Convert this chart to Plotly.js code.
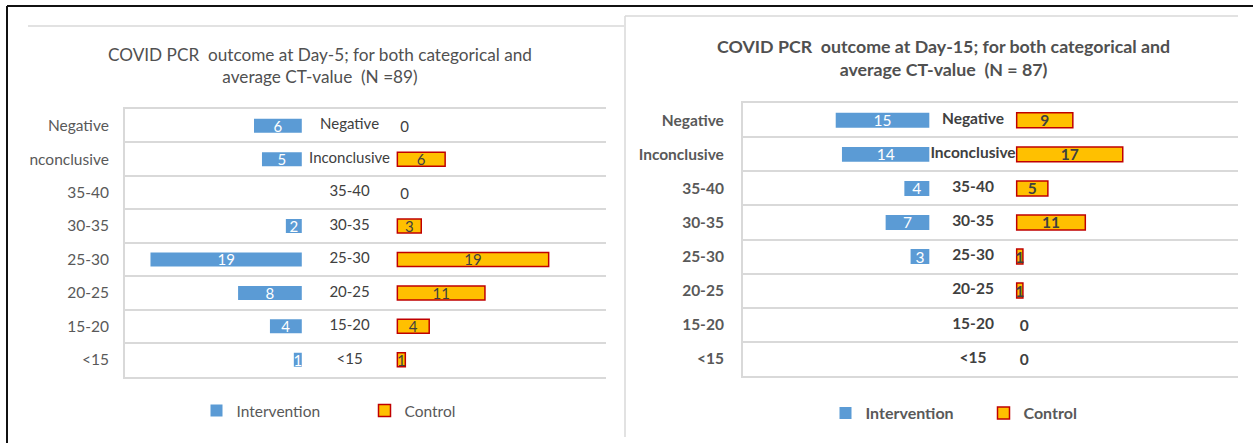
<!DOCTYPE html>
<html><head><meta charset="utf-8">
<script src="https://cdn.plot.ly/plotly-3.0.1.min.js"></script>
<style>html,body{margin:0;padding:0;background:#fff;overflow:hidden}#chart{width:1253px;height:443px}</style>
</head><body><div id="chart"></div>
<script>
// ---- data ----
const categories = ['Negative', 'Inconclusive', '35-40', '30-35', '25-30', '20-25', '15-20', '<15'];
const tickLabelsDay5 = ['Negative', 'Inconclusive', '35-40', '30-35', '25-30', '20-25', '15-20', '<15'];
const tickLabelsDay15 = ['Negative', 'Inconclusive', '35-40', '30-35', '25-30', '20-25', '15-20', '<15'];
const interventionDay5 = [6, 5, 0, 2, 19, 8, 4, 1];
const controlDay5 = [0, 6, 0, 3, 19, 11, 4, 1];
const interventionDay15 = [15, 14, 4, 7, 3, 0, 0, 0];
const controlDay15 = [9, 17, 5, 11, 1, 1, 0, 0];
const seriesNames = ['Intervention', 'Control'];
const titleDay5 = 'COVID PCR  outcome at Day-5; for both categorical and<br>average CT-value  (N =89)';
const titleDay15 = 'COVID PCR  outcome at Day-15; for both categorical and<br>average CT-value  (N = 87)';

// ---- styling ----
const W = 1253, H = 443;
const px = x => x / W;
const py = y => 1 - y / H;
const FONT = 'Lato, "Open Sans", sans-serif';
const GRAY = '#595959', DARK = '#404040', GRID = '#d9d9d9';
const BLUE = '#5B9BD5', GOLD = '#FFC000', RED = '#C00000';

function panel(intervention, control, gap, ax, legendId, bold, barWidth, fs) {
  const wt = bold ? 'bold' : 'normal';
  const xa = ax === 1 ? 'x' : 'x2', ya = ax === 1 ? 'y' : 'y2';
  // list the control points largest first so the legend swatch takes a bordered bar
  const order = categories.map((_, i) => i).sort((a, b) => control[b] - control[a]);
  const cCats = order.map(i => categories[i]);
  const cVals = order.map(i => control[i]);
  return [
    {
      type: 'bar', orientation: 'h', name: seriesNames[0], legend: legendId,
      y: categories, x: intervention.map(v => -v), base: -gap, width: barWidth,
      xaxis: xa, yaxis: ya,
      marker: {color: BLUE, line: {width: 0}},
      text: intervention.map(String), textposition: 'inside', insidetextanchor: 'middle',
      constraintext: 'none', textangle: 0,
      insidetextfont: {family: FONT, size: fs, color: '#ffffff', weight: 'normal'},
      hoverinfo: 'skip'
    },
    {
      type: 'bar', orientation: 'h', name: seriesNames[1], legend: legendId,
      y: cCats, x: cVals, base: gap, width: barWidth,
      xaxis: xa, yaxis: ya,
      marker: {color: GOLD, line: {color: RED, width: cVals.map(v => v > 0 ? 1.5 : 0)}},
      text: cVals.map(String), textposition: cVals.map(v => v > 0 ? 'inside' : 'outside'),
      insidetextanchor: 'middle', constraintext: 'none', textangle: 0, cliponaxis: false,
      insidetextfont: {family: FONT, size: fs, color: DARK, weight: wt},
      outsidetextfont: {family: FONT, size: fs, color: DARK, weight: wt},
      hoverinfo: 'skip'
    },
    {
      type: 'scatter', mode: 'text', showlegend: false, cliponaxis: false,
      x: categories.map(() => 0), y: categories, text: categories,
      xaxis: xa, yaxis: ya, textposition: 'middle center',
      textfont: {family: FONT, size: fs, color: DARK, weight: wt},
      hoverinfo: 'skip'
    }
  ];
}

const data = [
  ...panel(interventionDay5, controlDay5, 6, 1, 'legend', false, 0.42, 15),
  ...panel(interventionDay15, controlDay15, 7, 2, 'legend2', true, 0.44, 15.5)
];

function yAxis(domain, ticktext, bold, anchor, standoff, fs) {
  return {
    domain, anchor, type: 'category', categoryorder: 'array', categoryarray: categories,
    tickvals: categories, ticktext, autorange: 'reversed', tickson: 'boundaries',
    showgrid: true, gridcolor: GRID, gridwidth: 2, showline: true, linecolor: GRID, linewidth: 2,
    ticks: '', ticklabelstandoff: standoff, zeroline: false,
    tickfont: {family: FONT, size: fs, color: GRAY, weight: bold ? 'bold' : 'normal'}, fixedrange: true
  };
}
function xAxis(domain, range, anchor) {
  return {
    domain, range, anchor, showticklabels: false, showgrid: false, zeroline: false,
    showline: true, mirror: true, linecolor: GRID, linewidth: 2, ticks: '', fixedrange: true
  };
}

const layout = {
  width: W, height: H, margin: {l: 0, r: 0, t: 0, b: 0},
  paper_bgcolor: '#ffffff', plot_bgcolor: '#ffffff',
  barmode: 'overlay', showlegend: true,
  font: {family: FONT, color: GRAY},
  xaxis: xAxis([px(125), px(606)], [-28.2, 32.2], 'y'),
  yaxis: yAxis([py(376.5), py(109)], tickLabelsDay5, false, 'x', 11, 15.5),
  xaxis2: xAxis([px(743), px(1238)], [-36.86, 42.47], 'y2'),
  yaxis2: yAxis([py(375.7), py(103.3)], tickLabelsDay15, true, 'x2', 14, 15.5),
  legend: {
    orientation: 'h', x: px(196.5), xanchor: 'left', y: py(411), yanchor: 'middle',
    font: {family: FONT, size: 15.5, color: GRAY}, entrywidthmode: 'pixels', entrywidth: 123,
    bgcolor: 'rgba(0,0,0,0)'
  },
  legend2: {
    orientation: 'h', x: px(825.5), xanchor: 'left', y: py(413), yanchor: 'middle',
    font: {family: FONT, size: 16, color: GRAY, weight: 'bold'}, entrywidthmode: 'pixels', entrywidth: 113,
    bgcolor: 'rgba(0,0,0,0)'
  },
  annotations: [
    {xref: 'paper', yref: 'paper', x: px(320), y: py(65.5), text: titleDay5, showarrow: false,
     xanchor: 'center', yanchor: 'middle', font: {family: FONT, size: 17.2, color: '#505050'}},
    {xref: 'paper', yref: 'paper', x: px(943), y: py(57.5), text: titleDay15, showarrow: false,
     xanchor: 'center', yanchor: 'middle', font: {family: FONT, size: 17.8, color: '#505050', weight: 'bold'}}
  ],
  shapes: [
    // outer black frame
    {type: 'line', xref: 'paper', yref: 'paper', x0: px(7), x1: px(1253), y0: py(6), y1: py(6), line: {color: '#111', width: 2}},
    {type: 'line', xref: 'paper', yref: 'paper', x0: px(7), x1: px(7), y0: py(6), y1: py(443), line: {color: '#111', width: 2}},
    // left chart area top border
    {type: 'line', xref: 'paper', yref: 'paper', x0: px(28), x1: px(624), y0: py(26), y1: py(26), line: {color: GRID, width: 1.5}},
    // right chart area borders
    {type: 'line', xref: 'paper', yref: 'paper', x0: px(625), x1: px(1238), y0: py(16), y1: py(16), line: {color: GRID, width: 1.5}},
    {type: 'line', xref: 'paper', yref: 'paper', x0: px(625), x1: px(625), y0: py(16), y1: py(437), line: {color: GRID, width: 1.5}},
    // left chart area clips its own axis labels
    {type: 'rect', xref: 'paper', yref: 'paper', x0: px(9), x1: px(29.5), y0: py(170), y1: py(145), layer: 'above', fillcolor: '#ffffff', line: {width: 0}}
  ]
};

Plotly.newPlot('chart', data, layout, {staticPlot: true, displayModeBar: false});
</script>
</body></html>
